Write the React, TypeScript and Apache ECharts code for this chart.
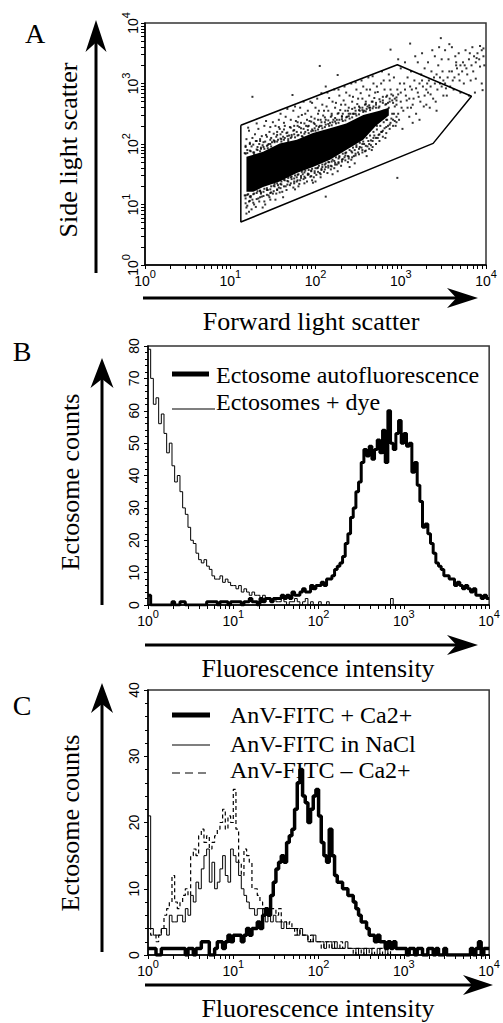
import { useEffect, useRef } from "react";
import * as echarts from "echarts";

// ---------- data (log10 units on the logarithmic axes) ----------
const CHANNELS_PER_DECADE = 32;

// Panel B: ectosome counts per channel (128 channels over 4 decades)
const autofluorescence = [
  3, 0, 0, 0, 0, 0, 0, 0,
  0, 1, 0, 0, 1, 1, 0, 0,
  0, 0, 0, 0, 0, 0, 1, 1,
  1, 1, 0, 1, 1, 1, 0, 1,
  1, 1, 1, 0, 1, 1, 2, 1,
  1, 0, 2, 1, 2, 2, 1, 2,
  2, 2, 3, 2, 3, 2, 4, 3,
  3, 4, 5, 4, 4, 6, 5, 6,
  6, 7, 6, 8, 8, 9, 11, 12,
  13, 15, 19, 22, 27, 30, 35, 38,
  44, 48, 46, 49, 45, 48, 51, 47,
  54, 44, 60, 50, 48, 53, 57, 50,
  53, 49, 50, 41, 44, 37, 32, 24,
  25, 22, 19, 16, 13, 12, 11, 9,
  9, 8, 8, 6, 7, 6, 5, 6,
  5, 4, 5, 3, 3, 2, 3, 2,
];
const dyeLabelled = [
  79, 70, 62, 64, 56, 59, 53, 47,
  50, 43, 38, 40, 35, 30, 28, 24,
  20, 19, 16, 14, 13, 14, 12, 11,
  9, 8, 8, 9, 7, 8, 7, 6,
  6, 5, 6, 4, 5, 4, 3, 4,
  3, 3, 2, 3, 2, 2, 1, 2,
  1, 1, 2, 1, 0, 1, 1, 2,
  1, 0, 1, 2, 0, 1, 0, 0,
  1, 0, 0, 1, 0, 0, 0, 0,
  0, 0, 0, 0, 0, 0, 0, 0,
  0, 0, 0, 0, 0, 0, 0, 0,
  0, 0, 0, 2, 0, 0, 0, 0,
  0, 0, 0, 0, 0, 0, 0, 0,
  0, 0, 0, 0, 0, 0, 0, 0,
  0, 0, 0, 0, 0, 0, 0, 0,
  0, 0, 0, 0, 0, 0, 0, 0,
];

// Panel C: annexin V-FITC binding
const anvCa = [
  1, 1, 1, 0, 0, 1, 1, 1,
  1, 1, 1, 1, 1, 1, 0, 1,
  1, 0, 1, 1, 2, 2, 2, 0,
  0, 1, 2, 2, 1, 2, 3, 2,
  3, 3, 3, 2, 3, 4, 3, 4,
  4, 5, 4, 6, 7, 6, 9, 11,
  13, 14, 15, 14, 17, 18, 19, 22,
  26, 28, 24, 23, 20, 22, 24, 25,
  21, 17, 15, 14, 19, 15, 12, 11,
  11, 10, 10, 9, 9, 8, 7, 6,
  5, 5, 4, 3, 3, 2, 3, 2,
  2, 1, 2, 1, 2, 1, 1, 1,
  1, 0, 1, 1, 0, 1, 1, 0,
  0, 1, 1, 0, 1, 0, 0, 1,
  0, 0, 0, 0, 0, 0, 0, 0,
  0, 1, 0, 1, 2, 0, 1, 1,
];
const anvNaCl = [
  21, 4, 3, 3, 3, 4, 4, 3,
  6, 5, 5, 6, 6, 5, 7, 6,
  9, 8, 11, 10, 13, 15, 16, 11,
  14, 10, 11, 13, 15, 12, 11, 16,
  15, 14, 12, 10, 9, 8, 7, 7,
  6, 7, 7, 6, 5, 6, 5, 6,
  5, 5, 4, 5, 4, 4, 4, 4,
  3, 4, 3, 3, 2, 2, 3, 2,
  2, 2, 1, 2, 2, 1, 2, 1,
  1, 1, 2, 1, 1, 1, 0, 1,
  1, 0, 1, 1, 0, 0, 1, 0,
  0, 1, 0, 0, 0, 0, 0, 0,
  0, 0, 0, 0, 0, 0, 0, 0,
  0, 0, 0, 0, 0, 0, 0, 0,
  0, 0, 0, 0, 0, 0, 0, 0,
  0, 0, 0, 0, 0, 0, 0, 0,
];
const anvNoCa = [
  4, 3, 3, 2, 3, 4, 6, 7,
  8, 12, 8, 7, 8, 9, 10, 9,
  15, 16, 15, 18, 19, 17, 18, 16,
  17, 18, 19, 20, 22, 19, 21, 20,
  25, 19, 14, 12, 16, 15, 14, 10,
  10, 9, 8, 7, 6, 6, 7, 7,
  6, 7, 5, 5, 4, 5, 4, 3,
  4, 3, 3, 3, 2, 3, 2, 2,
  2, 1, 2, 2, 1, 2, 1, 1,
  2, 1, 1, 1, 1, 0, 1, 1,
  0, 1, 1, 0, 1, 0, 0, 1,
  0, 0, 1, 0, 0, 0, 0, 0,
  0, 0, 0, 0, 0, 0, 0, 0,
  0, 0, 0, 0, 0, 0, 0, 0,
  0, 0, 0, 0, 0, 0, 0, 0,
  0, 0, 0, 0, 0, 0, 0, 0,
];

// Panel A: gate polygon [log FSC, log SSC]
const gateVertices = [
  [1.124, 2.31], [2.96, 3.31], [3.83, 2.79], [3.38, 2.01], [1.124, 0.71],
];
// densest (saturated) region of the event cloud
const denseRegion = [
  [1.19, 1.79], [1.385, 1.87], [1.58, 2.01], [1.78, 2.07], [1.97, 2.18],
  [2.17, 2.26], [2.36, 2.34], [2.56, 2.48], [2.75, 2.55], [2.86, 2.6],
  [2.86, 2.47], [2.71, 2.3], [2.56, 2.07], [2.36, 1.9], [2.17, 1.74],
  [1.97, 1.62], [1.78, 1.52], [1.58, 1.38], [1.385, 1.29], [1.27, 1.21],
  [1.19, 1.21],
];
// events hugging the edge of the dense region
const edgeEvents = [
  [1.18, 1.84], [1.18, 1.97], [1.18, 1.15], [1.18, 1.02],
  [1.23, 1.89], [1.23, 2.02], [1.23, 1.13], [1.23, 1.06],
  [1.27, 1.86], [1.27, 1.99], [1.27, 1.17], [1.27, 1.03],
  [1.31, 1.91], [1.31, 2.05], [1.31, 1.19], [1.31, 1.09],
  [1.35, 1.88], [1.35, 2.08], [1.35, 1.23], [1.35, 1.12],
  [1.39, 1.95], [1.39, 2.03], [1.39, 1.21], [1.39, 1.14],
  [1.43, 1.97], [1.43, 2.12], [1.43, 1.27], [1.43, 1.16],
  [1.47, 2.0], [1.47, 2.07], [1.47, 1.25], [1.47, 1.19],
  [1.51, 2.06], [1.51, 2.17], [1.51, 1.31], [1.51, 1.22],
  [1.55, 2.04], [1.55, 2.2], [1.55, 1.35], [1.55, 1.24],
  [1.59, 2.09], [1.59, 2.16], [1.59, 1.34], [1.59, 1.27],
  [1.63, 2.07], [1.63, 2.24], [1.63, 1.41], [1.63, 1.3],
  [1.67, 2.13], [1.67, 2.19], [1.67, 1.39], [1.67, 1.33],
  [1.71, 2.1], [1.71, 2.27], [1.71, 1.45], [1.71, 1.35],
  [1.75, 2.16], [1.75, 2.23], [1.75, 1.43], [1.75, 1.38],
  [1.79, 2.14], [1.79, 2.3], [1.79, 1.49], [1.79, 1.4],
  [1.83, 2.19], [1.83, 2.26], [1.83, 1.47], [1.83, 1.44],
  [1.87, 2.17], [1.87, 2.34], [1.87, 1.53], [1.87, 1.46],
  [1.91, 2.23], [1.91, 2.29], [1.91, 1.51], [1.91, 1.49],
  [1.95, 2.21], [1.95, 2.37], [1.95, 1.56], [1.95, 1.47],
  [1.99, 2.26], [1.99, 2.33], [1.99, 1.55], [1.99, 1.52],
  [2.03, 2.24], [2.03, 2.4], [2.03, 1.61], [2.03, 1.54],
  [2.07, 2.3], [2.07, 2.36], [2.07, 1.59], [2.07, 1.57],
  [2.11, 2.28], [2.11, 2.44], [2.11, 1.66], [2.11, 1.58],
  [2.15, 2.33], [2.15, 2.39], [2.15, 1.64], [2.15, 1.61],
  [2.19, 2.31], [2.19, 2.47], [2.19, 1.71], [2.19, 1.63],
  [2.23, 2.37], [2.23, 2.43], [2.23, 1.69], [2.23, 1.66],
  [2.27, 2.35], [2.27, 2.51], [2.27, 1.76], [2.27, 1.68],
  [2.31, 2.41], [2.31, 2.46], [2.31, 1.74], [2.31, 1.71],
  [2.35, 2.39], [2.35, 2.55], [2.35, 1.81], [2.35, 1.73],
  [2.39, 2.46], [2.39, 2.5], [2.39, 1.79], [2.39, 1.76],
  [2.43, 2.44], [2.43, 2.58], [2.43, 1.86], [2.43, 1.78],
  [2.47, 2.5], [2.47, 2.55], [2.47, 1.84], [2.47, 1.81],
  [2.51, 2.49], [2.51, 2.62], [2.51, 1.92], [2.51, 1.83],
  [2.55, 2.56], [2.55, 2.6], [2.55, 1.9], [2.55, 1.86],
  [2.59, 2.54], [2.59, 2.66], [2.59, 1.97], [2.59, 1.89],
  [2.63, 2.6], [2.63, 2.64], [2.63, 2.0], [2.63, 1.92],
  [2.67, 2.59], [2.67, 2.7], [2.67, 2.05], [2.67, 1.95],
  [2.71, 2.65], [2.71, 2.68], [2.71, 2.1], [2.71, 2.0],
  [2.75, 2.62], [2.75, 2.74], [2.75, 2.16], [2.75, 2.05],
  [2.79, 2.68], [2.79, 2.72], [2.79, 2.22], [2.79, 2.12],
  [2.83, 2.66], [2.83, 2.78], [2.83, 2.28], [2.83, 2.18],
  [2.87, 2.7], [2.87, 2.75], [2.87, 2.32], [2.87, 2.25],
  [2.91, 2.68], [2.91, 2.8], [2.91, 2.4], [2.91, 2.3],
  [2.95, 2.72], [2.95, 2.77], [2.95, 2.45], [2.95, 2.36],
];
// events along the border of the main population
const fringeEvents = [
  [1.2, 1.85], [1.24, 1.88], [1.28, 1.83], [1.32, 1.9], [1.36, 1.94], [1.4, 1.92],
  [1.44, 1.98], [1.48, 1.96], [1.52, 2.03], [1.56, 2.07], [1.6, 2.04], [1.64, 2.1],
  [1.68, 2.08], [1.72, 2.12], [1.76, 2.11], [1.8, 2.15], [1.84, 2.13], [1.88, 2.2],
  [1.92, 2.18], [1.96, 2.24], [2.0, 2.22], [2.04, 2.28], [2.08, 2.26], [2.12, 2.32],
  [2.16, 2.3], [2.2, 2.36], [2.24, 2.34], [2.28, 2.4], [2.32, 2.38], [2.36, 2.44],
  [2.4, 2.42], [2.44, 2.5], [2.48, 2.47], [2.52, 2.55], [2.56, 2.53], [2.6, 2.58],
  [2.64, 2.56], [2.68, 2.62],
  [1.2, 1.16], [1.24, 1.14], [1.28, 1.18], [1.32, 1.22], [1.36, 1.2], [1.4, 1.26],
  [1.44, 1.24], [1.48, 1.3], [1.52, 1.34], [1.56, 1.32], [1.6, 1.38], [1.64, 1.4],
  [1.68, 1.44], [1.72, 1.46], [1.76, 1.48], [1.8, 1.5], [1.84, 1.54], [1.88, 1.56],
  [1.92, 1.57], [1.96, 1.59], [2.0, 1.6], [2.04, 1.64], [2.08, 1.66], [2.12, 1.68],
  [2.16, 1.7], [2.2, 1.74], [2.24, 1.78], [2.28, 1.8], [2.32, 1.84], [2.36, 1.86],
  [2.4, 1.9], [2.44, 1.94], [2.48, 1.98], [2.52, 2.02], [2.56, 2.04], [2.6, 2.1],
  [2.64, 2.14], [2.68, 2.2], [2.72, 2.24], [2.76, 2.3], [2.8, 2.36], [2.84, 2.4],
];
// scattered events between the main population and the gate
const outerEvents = [
  [1.19, 2.08], [1.21, 2.27], [1.25, 1.96], [1.29, 2.16], [1.31, 2.34], [1.34, 2.0],
  [1.37, 2.13], [1.41, 2.04], [1.42, 2.38], [1.46, 2.2], [1.49, 2.03], [1.5, 2.36],
  [1.54, 2.12], [1.57, 2.28], [1.59, 2.5], [1.61, 2.2], [1.64, 2.3], [1.67, 2.58],
  [1.69, 2.14], [1.71, 2.4], [1.74, 2.22], [1.76, 2.62], [1.79, 2.36], [1.81, 2.28],
  [1.84, 2.48], [1.86, 2.7], [1.89, 2.3], [1.91, 2.55], [1.93, 2.38], [1.96, 2.68],
  [1.99, 2.42], [2.01, 2.3], [2.04, 2.55], [2.07, 2.84], [2.09, 2.47], [2.11, 2.36],
  [2.13, 2.62], [2.16, 2.76], [2.19, 2.5], [2.21, 2.4], [2.24, 2.68], [2.27, 2.9],
  [2.29, 2.56], [2.31, 2.45], [2.33, 2.72], [2.36, 2.85], [2.39, 2.6], [2.41, 2.5],
  [2.44, 2.78], [2.47, 3.02], [2.49, 2.66], [2.51, 2.56], [2.53, 2.84], [2.56, 2.95],
  [2.59, 2.7], [2.61, 2.62], [2.64, 2.9], [2.67, 3.12], [2.69, 2.76], [2.71, 2.6],
  [2.73, 2.86], [2.77, 3.0], [2.79, 2.78], [2.81, 2.9], [2.85, 2.68], [2.87, 3.05],
  [2.89, 2.82], [2.93, 2.62], [2.97, 2.82], [2.99, 3.0], [3.01, 2.6], [3.05, 2.9],
  [3.07, 2.72], [3.11, 2.95], [3.14, 2.65], [3.18, 2.92], [3.21, 2.78], [3.25, 3.05],
  [3.27, 2.62], [3.31, 3.0], [3.35, 2.82], [3.39, 3.1], [3.41, 2.7], [3.46, 3.0],
  [3.49, 3.2], [3.53, 2.92], [3.57, 3.2], [3.61, 3.05], [3.65, 3.3], [3.69, 3.05],
  [3.73, 3.35], [3.77, 3.25], [3.81, 3.5], [3.85, 3.2], [3.89, 3.42], [3.93, 3.28],
  [3.97, 3.58],
  [1.19, 0.95], [1.22, 0.88], [1.26, 1.08], [1.3, 0.96], [1.34, 1.05], [1.37, 1.13],
  [1.41, 1.0], [1.46, 1.12], [1.5, 1.18], [1.53, 1.08], [1.57, 1.28], [1.61, 1.21],
  [1.66, 1.24], [1.7, 1.32], [1.74, 1.28], [1.78, 1.38], [1.81, 1.34], [1.86, 1.42],
  [1.9, 1.38], [1.94, 1.46], [1.97, 1.36], [2.01, 1.49], [2.06, 1.5], [2.1, 1.54],
  [2.14, 1.52], [2.18, 1.64], [2.22, 1.6], [2.27, 1.7], [2.3, 1.64], [2.34, 1.78],
  [2.38, 1.8], [2.42, 1.74], [2.46, 1.9], [2.5, 1.86], [2.54, 1.94], [2.57, 2.0],
  [2.61, 1.96], [2.65, 2.06], [2.69, 2.14], [2.73, 2.1], [2.77, 2.2], [2.81, 2.26],
  [2.85, 2.3], [2.89, 2.42], [2.93, 2.38], [2.97, 2.5],
];
// sparser events around and beyond the main population
const sparseEvents = [
  [1.18, 1.1], [1.2, 0.98], [1.22, 1.05], [1.17, 1.15], [1.25, 0.92], [1.19, 0.85],
  [1.24, 1.12], [1.28, 1.0], [1.21, 1.17], [1.2, 1.9], [1.23, 2.0], [1.18, 1.95],
  [1.26, 2.1], [1.22, 2.22], [1.28, 1.86], [1.3, 2.05], [1.17, 1.85],
  [1.33, 1.1], [1.36, 1.18], [1.4, 1.05], [1.45, 1.15], [1.38, 0.95], [1.48, 1.2],
  [1.43, 1.24], [1.35, 1.22], [1.47, 1.08], [1.32, 1.95], [1.35, 2.05], [1.38, 1.98],
  [1.42, 2.15], [1.45, 2.0], [1.48, 2.1], [1.33, 2.25], [1.4, 2.3], [1.47, 2.28],
  [1.36, 1.92], [1.44, 1.93],
  [1.52, 1.3], [1.55, 1.25], [1.6, 1.33], [1.58, 1.2], [1.65, 1.3], [1.68, 1.38],
  [1.62, 1.12], [1.54, 1.18], [1.52, 2.05], [1.55, 2.15], [1.58, 2.25], [1.6, 2.08],
  [1.63, 2.35], [1.66, 2.18], [1.68, 2.05], [1.57, 2.4], [1.65, 2.45], [1.62, 2.12],
  [1.7, 2.28], [1.53, 2.3],
  [1.72, 1.42], [1.75, 1.35], [1.78, 1.45], [1.82, 1.4], [1.85, 1.5], [1.88, 1.44],
  [1.8, 1.3], [1.76, 1.25], [1.87, 1.35], [1.72, 2.15], [1.75, 2.3], [1.78, 2.2],
  [1.8, 2.45], [1.83, 2.35], [1.86, 2.25], [1.88, 2.5], [1.74, 2.55], [1.82, 2.6],
  [1.9, 2.4], [1.77, 2.38], [1.85, 2.12],
  [1.92, 1.5], [1.95, 1.55], [1.98, 1.45], [2.02, 1.6], [2.05, 1.52], [2.08, 1.62],
  [2.0, 1.38], [1.96, 1.4], [2.06, 1.45], [1.92, 2.3], [1.95, 2.45], [1.98, 2.35],
  [2.0, 2.6], [2.03, 2.5], [2.06, 2.4], [2.08, 2.65], [1.94, 2.7], [2.02, 2.75],
  [2.1, 2.55], [1.97, 2.22], [2.05, 2.3],
  [2.12, 1.62], [2.15, 1.7], [2.18, 1.58], [2.22, 1.72], [2.25, 1.66], [2.28, 1.78],
  [2.2, 1.5], [2.26, 1.55], [2.12, 2.4], [2.15, 2.55], [2.18, 2.45], [2.2, 2.7],
  [2.23, 2.6], [2.26, 2.5], [2.28, 2.8], [2.14, 2.85], [2.22, 2.9], [2.3, 2.65],
  [2.17, 2.35], [2.25, 2.4], [2.12, 2.95],
  [2.32, 1.75], [2.35, 1.85], [2.38, 1.7], [2.42, 1.88], [2.45, 1.8], [2.48, 1.95],
  [2.4, 1.62], [2.46, 1.68], [2.32, 2.5], [2.35, 2.65], [2.38, 2.55], [2.4, 2.8],
  [2.43, 2.7], [2.46, 2.6], [2.48, 2.9], [2.34, 2.95], [2.42, 3.0], [2.5, 2.75],
  [2.37, 2.45], [2.45, 2.5],
  [2.52, 1.95], [2.55, 2.0], [2.58, 1.88], [2.62, 2.05], [2.65, 1.98], [2.68, 2.1],
  [2.6, 1.8], [2.66, 1.9], [2.52, 2.6], [2.55, 2.75], [2.58, 2.65], [2.6, 2.9],
  [2.63, 2.8], [2.66, 2.7], [2.68, 3.0], [2.54, 3.05], [2.62, 3.1], [2.7, 2.85],
  [2.57, 2.55], [2.64, 2.6],
  [2.72, 2.3], [2.75, 2.45], [2.78, 2.2], [2.8, 2.55], [2.83, 2.4], [2.86, 2.6],
  [2.88, 2.35], [2.74, 2.15], [2.82, 2.1], [2.9, 2.5], [2.76, 2.7], [2.84, 2.8],
  [2.72, 2.95], [2.8, 3.05], [2.88, 2.9], [2.78, 3.2], [2.86, 3.15], [2.74, 2.6],
  [2.9, 2.72], [2.82, 2.65],
  [2.92, 2.5], [2.95, 2.65], [2.98, 2.4], [3.0, 2.7], [3.03, 2.55], [3.06, 2.8],
  [3.08, 2.6], [2.94, 2.3], [3.02, 2.25], [3.1, 2.75], [2.96, 2.9], [3.04, 3.0],
  [2.92, 3.1], [3.0, 3.25], [3.08, 3.1], [2.97, 3.4], [3.05, 3.35], [2.93, 2.75],
  [3.1, 2.45], [3.0, 2.85],
  [3.12, 2.6], [3.15, 2.75], [3.18, 2.5], [3.2, 2.85], [3.23, 2.7], [3.26, 2.95],
  [3.28, 2.8], [3.14, 2.35], [3.22, 2.4], [3.3, 2.9], [3.16, 3.05], [3.24, 3.15],
  [3.12, 3.2], [3.2, 3.35], [3.28, 3.25], [3.17, 3.45], [3.25, 3.5], [3.13, 2.9],
  [3.3, 2.65], [3.22, 3.0],
  [3.32, 2.85], [3.35, 2.95], [3.38, 2.75], [3.4, 3.0], [3.43, 2.9], [3.46, 3.1],
  [3.48, 2.95], [3.34, 2.6], [3.42, 2.55], [3.5, 3.05], [3.36, 3.2], [3.44, 3.3],
  [3.32, 3.35], [3.4, 3.45], [3.48, 3.4], [3.37, 3.55], [3.45, 3.6], [3.33, 3.05],
  [3.5, 2.8], [3.42, 3.15],
  [3.52, 3.0], [3.55, 3.1], [3.58, 2.95], [3.6, 3.2], [3.63, 3.1], [3.66, 3.25],
  [3.68, 3.15], [3.54, 2.8], [3.62, 2.9], [3.7, 3.3], [3.56, 3.4], [3.64, 3.45],
  [3.52, 3.55], [3.6, 3.6], [3.68, 3.5], [3.57, 3.65], [3.65, 3.35], [3.7, 2.85],
  [3.72, 3.2], [3.75, 3.3], [3.78, 3.15], [3.8, 3.4], [3.83, 3.3], [3.86, 3.45],
  [3.88, 3.35], [3.74, 3.0], [3.82, 3.05], [3.9, 3.5], [3.76, 3.55], [3.84, 3.6],
  [3.92, 3.4], [3.95, 3.55], [3.97, 3.45], [3.93, 3.62], [3.98, 3.3], [3.87, 2.85],
  [3.95, 3.0], [3.8, 2.8],
  [1.26, 2.78], [2.05, 3.29], [1.73, 2.81], [2.96, 1.44], [2.12, 1.13], [2.26, 3.14],
  [2.88, 3.56], [3.11, 3.66], [3.47, 3.75], [3.96, 2.89], [3.88, 3.08],
];

// ---------- layout helpers ----------
const SERIF = "Liberation Serif";
const SANS = "Liberation Sans";

const logTickPositions: number[] = [];
for (let d = 0; d < 4; d++) {
  for (let k = 1; k <= 9; k++) logTickPositions.push(d + Math.log10(k));
}
logTickPositions.push(4);

const toSteps = (counts: number[]) => {
  const pts = counts.map((c, i) => [i / CHANNELS_PER_DECADE, c]);
  pts.push([counts.length / CHANNELS_PER_DECADE, counts[counts.length - 1]]);
  return pts;
};

const powerLabel = (rotate: number, margin: number) => ({
  show: true,
  rotate,
  margin,
  fontFamily: SANS,
  fontSize: 14,
  color: "#000",
  formatter: (v: number) => `{b|10}{e|${Math.round(v)}}`,
  rich: {
    b: { fontSize: 14, fontFamily: SANS, color: "#000", padding: [6, 0, 0, 0] },
    e: { fontSize: 11, fontFamily: SANS, color: "#000", verticalAlign: "top" },
  },
});

const logAxis = (gridIndex: number, rotate: number, margin: number) => ({
  type: "value",
  gridIndex,
  min: 0,
  max: 4,
  interval: 1,
  axisLine: { show: true, lineStyle: { color: "#000", width: 1.5 } },
  axisTick: { show: true, length: 4, customValues: logTickPositions, lineStyle: { color: "#000", width: 1 } },
  axisLabel: powerLabel(rotate, margin),
  splitLine: { show: false },
});

const countAxis = (gridIndex: number, max: number) => ({
  type: "value",
  gridIndex,
  min: 0,
  max,
  interval: 10,
  axisLine: { show: true, lineStyle: { color: "#000", width: 1.5 } },
  axisTick: { show: true, length: 4, lineStyle: { color: "#000", width: 1 } },
  minorTick: { show: true, splitNumber: 5, length: 3, lineStyle: { color: "#000", width: 1 } },
  axisLabel: { show: true, rotate: 90, margin: 7, fontSize: 14, fontFamily: SANS, color: "#000" },
  splitLine: { show: false },
  minorSplitLine: { show: false },
});

const upArrow = (x: number, yBase: number, yTip: number, len: number, half: number) => [
  { type: "line", shape: { x1: x, y1: yBase, x2: x, y2: yTip + len * 0.6 }, style: { stroke: "#000", lineWidth: 3 } },
  {
    type: "polygon",
    shape: { points: [[x, yTip], [x - half, yTip + len], [x, yTip + len * 0.7], [x + half, yTip + len]] },
    style: { fill: "#000" },
  },
];
const rightArrow = (y: number, xBase: number, xTip: number, len: number, half: number) => [
  { type: "line", shape: { x1: xBase, y1: y, x2: xTip - len * 0.6, y2: y }, style: { stroke: "#000", lineWidth: 3 } },
  {
    type: "polygon",
    shape: { points: [[xTip, y], [xTip - len, y - half], [xTip - len * 0.7, y], [xTip - len, y + half]] },
    style: { fill: "#000" },
  },
];
const label = (text: string, x: number, y: number, size: number, opts: any = {}) => ({
  type: "text",
  x,
  y,
  rotation: opts.rotation ?? 0,
  style: {
    text,
    fontFamily: SERIF,
    fontSize: size,
    fill: "#000",
    align: opts.align ?? "center",
    verticalAlign: "middle",
  },
});
const legendLine = (x1: number, x2: number, y: number, width: number, dash?: number[]) => ({
  type: "line",
  shape: { x1, y1: y, x2, y2: y },
  style: { stroke: "#000", lineWidth: width, lineDash: dash },
});

const histSeries = (name: string, counts: number[], axis: number, width: number, dash?: number[]) => ({
  name,
  type: "line",
  xAxisIndex: axis,
  yAxisIndex: axis,
  step: "end",
  symbol: "none",
  data: toSteps(counts),
  lineStyle: { color: "#000", width, type: dash ?? "solid" },
  clip: true,
});

export default function App() {
  const ref = useRef<HTMLDivElement>(null);

  useEffect(() => {
    if (!ref.current) return;
    const chart = echarts.init(ref.current, null, { renderer: "svg" });
    const frame = { show: true, borderColor: "#333", borderWidth: 1.5, backgroundColor: "transparent" };

    chart.setOption({
      animation: false,
      backgroundColor: "#fff",
      textStyle: { fontFamily: SANS },
      grid: [
        { left: 145, top: 23, width: 341, height: 242, ...frame },
        { left: 148, top: 346, width: 342, height: 259, ...frame },
        { left: 148, top: 690, width: 345, height: 265, ...frame },
      ],
      xAxis: [logAxis(0, 0, 3), logAxis(1, 0, 3), logAxis(2, 0, 3)],
      yAxis: [logAxis(0, 90, 5), countAxis(1, 80), countAxis(2, 40)],
      series: [
        {
          type: "custom",
          xAxisIndex: 0,
          yAxisIndex: 0,
          data: [denseRegion[0]],
          renderItem: (_p: any, api: any) => ({
            type: "polygon",
            shape: { points: denseRegion.map((p) => api.coord(p)) },
            style: { fill: "#000" },
          }),
          clip: true,
        },
        {
          type: "scatter",
          xAxisIndex: 0,
          yAxisIndex: 0,
          symbol: "rect",
          symbolSize: 2,
          data: [...edgeEvents, ...fringeEvents, ...outerEvents, ...sparseEvents],
          itemStyle: { color: "#000" },
        },
        {
          type: "line",
          xAxisIndex: 0,
          yAxisIndex: 0,
          symbol: "none",
          data: [...gateVertices, gateVertices[0]],
          lineStyle: { color: "#000", width: 1.5 },
          z: 5,
        },
        histSeries("Ectosomes + dye", dyeLabelled, 1, 1),
        histSeries("Ectosome autofluorescence", autofluorescence, 1, 3),
        histSeries("AnV-FITC in NaCl", anvNaCl, 2, 1),
        histSeries("AnV-FITC – Ca2+", anvNoCa, 2, 1.2, [4, 3]),
        histSeries("AnV-FITC + Ca2+", anvCa, 2, 3.5),
      ],
      graphic: [
        // panel A
        label("A", 35, 33, 28),
        ...upArrow(96, 273, 20, 32, 10.5),
        label("Side light scatter", 68, 150, 26, { rotation: Math.PI / 2 }),
        ...rightArrow(298, 143, 478, 31, 10),
        label("Forward light scatter", 311, 321, 26),
        // panel B
        label("B", 22, 351, 28),
        ...upArrow(102, 605, 358, 30, 11.5),
        label("Ectosome counts", 70, 482, 26, { rotation: Math.PI / 2 }),
        ...rightArrow(645, 145, 478, 31, 10),
        label("Fluorescence intensity", 318, 668, 26),
        legendLine(172, 209, 374, 5),
        label("Ectosome autofluorescence", 216, 375, 24, { align: "left" }),
        legendLine(172, 215, 409, 1.2),
        label("Ectosomes + dye", 216, 402, 24, { align: "left" }),
        // panel C
        label("C", 22, 705, 28),
        ...upArrow(102, 952, 683, 30, 11),
        label("Ectosome counts", 70, 823, 26, { rotation: Math.PI / 2 }),
        ...rightArrow(985, 145, 493, 30, 10),
        label("Fluorescence intensity", 318, 1008, 26),
        legendLine(172, 210, 715, 5),
        label("AnV-FITC + Ca2+", 230, 715, 24, { align: "left" }),
        legendLine(172, 210, 745, 1.2),
        label("AnV-FITC in NaCl", 230, 744, 24, { align: "left" }),
        legendLine(172, 210, 773, 1.2, [8, 5]),
        label("AnV-FITC – Ca2+", 230, 770, 24, { align: "left" }),
      ],
    });

    return () => chart.dispose();
  }, []);

  return (
    <div
      ref={ref}
      style={{ position: "fixed", left: 0, top: 0, width: 503, height: 1023, background: "#fff" }}
    />
  );
}
